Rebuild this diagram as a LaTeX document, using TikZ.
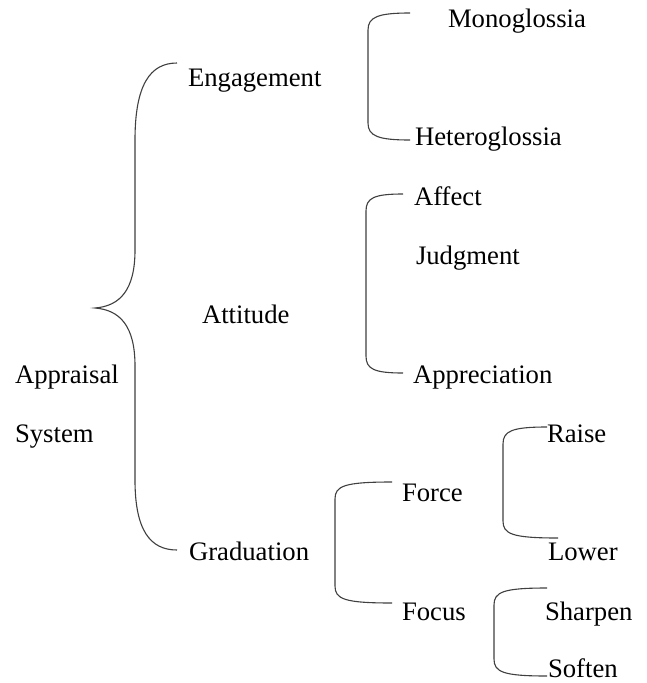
\documentclass[tikz,border=0pt]{standalone}
\usepackage{fontspec}
\setmainfont{Liberation Serif}
\begin{document}
\begin{tikzpicture}[x=1pt,y=-1pt,
  lbl/.style={anchor=base west,inner sep=0pt,outer sep=0pt,font=\fontsize{26.7}{32}\selectfont},
  brk/.style={draw=black!75,line width=1.1pt}]
\useasboundingbox[fill=white] (0,0) rectangle (647,683);
% labels
\node[lbl] (mono)  at (448,27)  {Monoglossia};
\node[lbl] (eng)   at (188,86)  {Engagement};
\node[lbl] (het)   at (415,145) {Heteroglossia};
\node[lbl] (aff)   at (414,205) {Affect};
\node[lbl] (jud)   at (416,264) {Judgment};
\node[lbl] (att)   at (202,323) {Attitude};
\node[lbl] (app)   at (15,383)  {Appraisal};
\node[lbl] (appr)  at (413,383) {Appreciation};
\node[lbl] (sys)   at (15,442)  {System};
\node[lbl] (rai)   at (547,442) {Raise};
\node[lbl] (for)   at (402,501) {Force};
\node[lbl] (gra)   at (189,560) {Graduation};
\node[lbl] (low)   at (548,560) {Lower};
\node[lbl] (foc)   at (402,620) {Focus};
\node[lbl] (sha)   at (545,620) {Sharpen};
\node[lbl] (sof)   at (548,677) {Soften};
% big brace
\coordinate (bt) at (177,63);
\coordinate (bm) at (95,308);
\coordinate (bb) at (177,550);
\draw[brk] (bt) .. controls (150,63) and (135,85) .. (135,140) -- (135,250)
  .. controls (135,290) and (120,306) .. (bm)
  .. controls (120,310) and (135,326) .. (135,366) -- (135,480)
  .. controls (135,530) and (150,550) .. (bb);
% engagement bracket
\coordinate (e1) at (410,13);
\coordinate (e2) at (410,140);
\draw[brk] (e1) .. controls (378,13) and (368,17) .. (368,30) -- (368,123)
  .. controls (368,136) and (378,140) .. (e2);
% attitude bracket
\coordinate (a1) at (403,194);
\coordinate (a2) at (403,373);
\draw[brk] (a1) .. controls (374,194) and (366,198) .. (366,211) -- (366,356)
  .. controls (366,369) and (374,373) .. (a2);
% graduation bracket
\coordinate (g1) at (392,482);
\coordinate (g2) at (392,603);
\draw[brk] (g1) .. controls (344,482) and (335,486) .. (335,499) -- (335,586)
  .. controls (335,599) and (344,603) .. (g2);
% force bracket
\coordinate (f1) at (547,427);
\coordinate (f2) at (558,538);
\draw[brk] (f1) .. controls (512,427) and (503,431) .. (503,444) -- (503,521)
  .. controls (503,534) and (512,538) .. (f2);
% focus bracket
\coordinate (c1) at (547,588);
\coordinate (c2) at (547,676);
\draw[brk] (c1) .. controls (503,588) and (494,592) .. (494,605) -- (494,659)
  .. controls (494,672) and (503,676) .. (c2);
\end{tikzpicture}
\end{document}
